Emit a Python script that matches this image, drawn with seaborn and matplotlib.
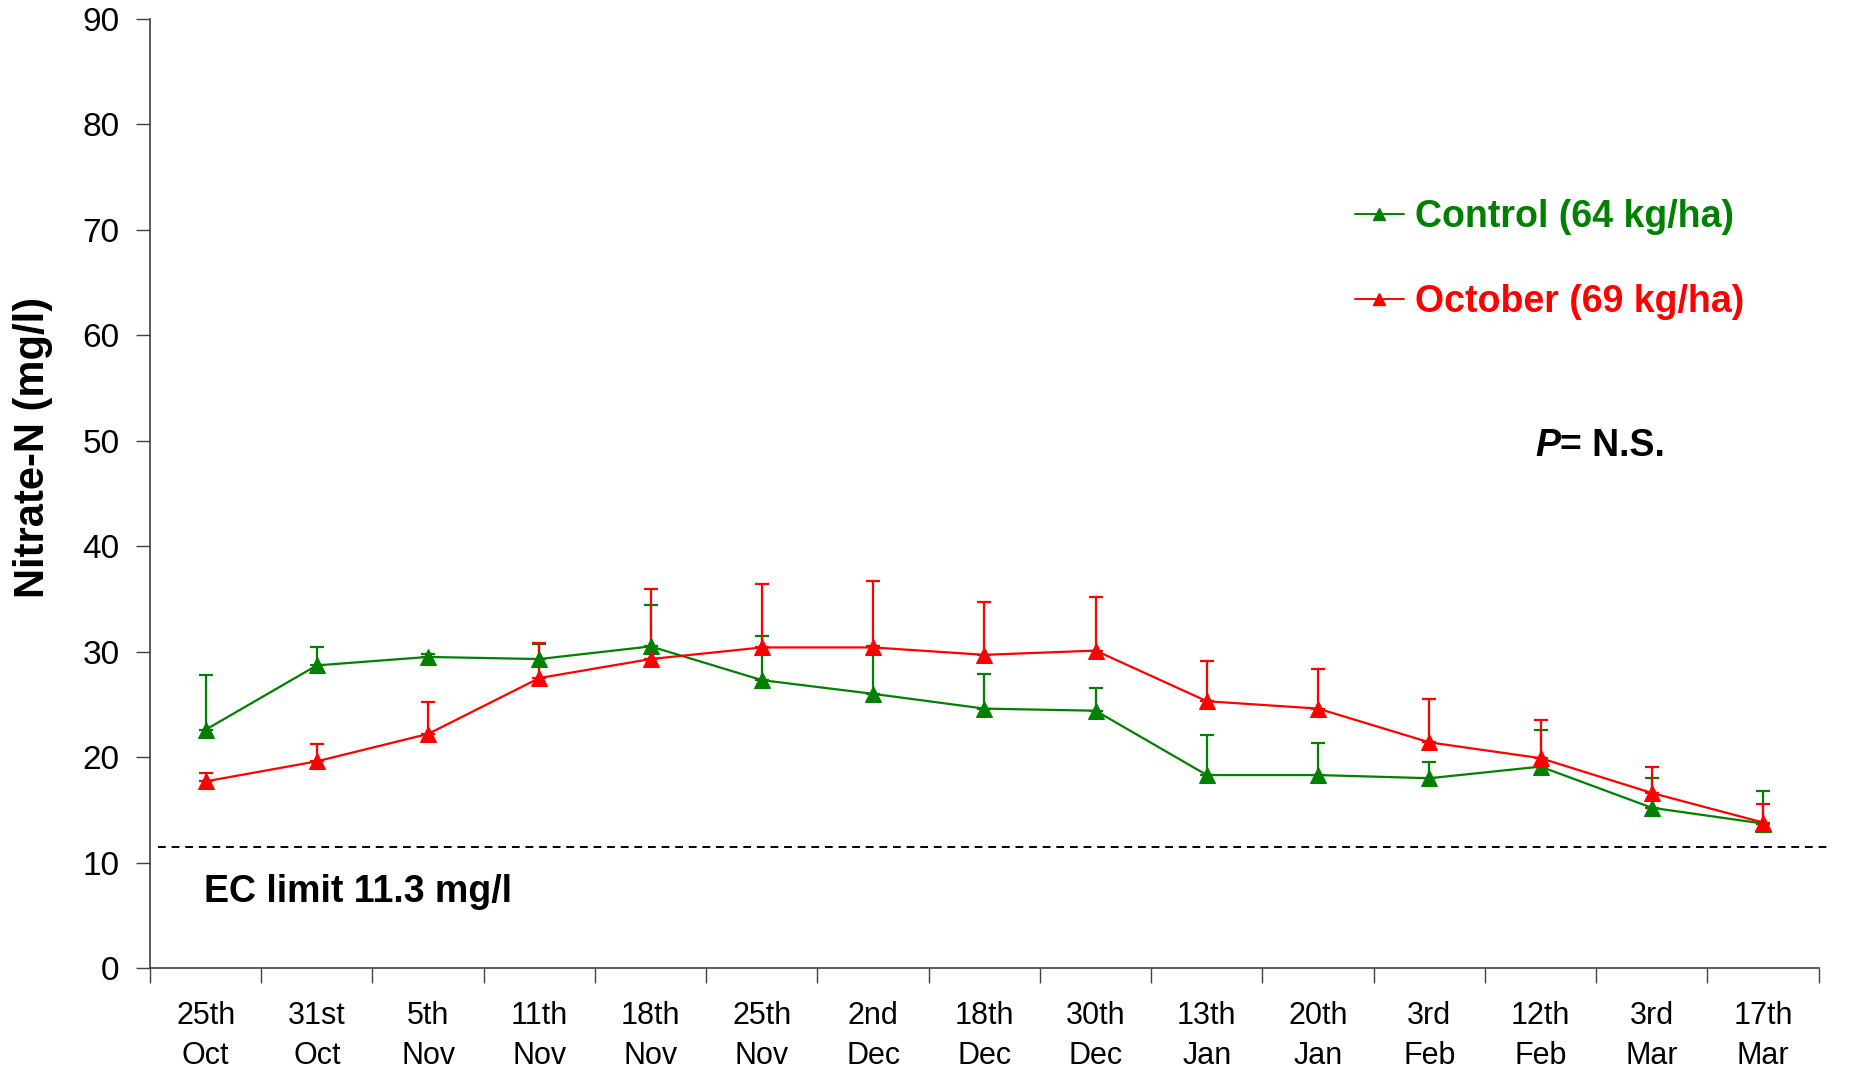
import matplotlib
matplotlib.use("Agg")
import matplotlib.pyplot as plt
from matplotlib.lines import Line2D
import numpy as np
import pandas as pd
import seaborn as sns

dates = ["25th\nOct", "31st\nOct", "5th\nNov", "11th\nNov", "18th\nNov", "25th\nNov",
         "2nd\nDec", "18th\nDec", "30th\nDec", "13th\nJan", "20th\nJan", "3rd\nFeb",
         "12th\nFeb", "3rd\nMar", "17th\nMar"]

control_mean = [22.6, 28.7, 29.5, 29.3, 30.5, 27.3, 26.0, 24.6, 24.4, 18.3, 18.3, 18.0, 19.1, 15.2, 13.7]
control_top = [27.8, 30.4, 29.8, 30.7, 34.4, 31.5, 30.5, 27.9, 26.6, 22.1, 21.3, 19.5, 22.6, 18.0, 16.8]

october_mean = [17.7, 19.6, 22.2, 27.5, 29.3, 30.4, 30.4, 29.7, 30.1, 25.3, 24.6, 21.4, 19.9, 16.6, 13.8]
october_top = [18.5, 21.2, 25.2, 30.8, 35.9, 36.4, 36.7, 34.7, 35.2, 29.1, 28.4, 25.5, 23.5, 19.1, 15.6]

ec_limit = 11.5

GREEN = "#008000"
RED = "#FF0000"

sns.set_style("ticks")
plt.rcParams["font.family"] = ["Liberation Sans", "DejaVu Sans"]
plt.rcParams["text.color"] = "black"
plt.rcParams["axes.labelcolor"] = "black"
plt.rcParams["xtick.labelcolor"] = "black"
plt.rcParams["ytick.labelcolor"] = "black"

fig = plt.figure(figsize=(18.52, 10.70), dpi=100)
ax = fig.add_axes([0.081, 0.0953, 0.901, 0.887])

x = np.arange(len(dates))
series = [
    ("Control (64 kg/ha)", control_mean, control_top, GREEN),
    ("October (69 kg/ha)", october_mean, october_top, RED),
]

for name, mean, top, color in series:
    df = pd.DataFrame({"pos": x, "value": mean})
    mean = np.array(mean)
    upper = np.array(top) - mean
    ax.errorbar(x, mean, yerr=[np.zeros_like(upper), upper], fmt="none",
                ecolor=color, elinewidth=1.6, capsize=5, capthick=1.6, zorder=2)
    sns.lineplot(data=df, x="pos", y="value", ax=ax, color=color, marker="^",
                 markersize=11, markeredgecolor=color, linewidth=1.6, zorder=3)

ax.axhline(ec_limit, xmin=0.005, xmax=1.008, color="black", linestyle=(0, (4, 3)),
           linewidth=1.4, clip_on=False)

ax.set_xlim(-0.5, len(dates) - 0.5)
ax.set_ylim(0, 90)
ax.set_yticks(range(0, 91, 10))
ax.set_xticks(np.arange(len(dates) + 1) - 0.5)
ax.set_xticklabels([])
ax.set_xticks(x, minor=True)
ax.set_xticklabels(dates, minor=True, fontsize=22, linespacing=1.4)
ax.tick_params(axis="x", which="minor", length=0, pad=24)
ax.tick_params(axis="x", which="major", length=11, width=1, color="#404040")
ax.tick_params(axis="y", length=10, width=1, color="#404040", labelsize=24, pad=12)

ax.set_xlabel("")
ax.set_ylabel("Nitrate-N (mg/l)", fontsize=30, fontweight="bold")
ax.yaxis.set_label_coords(-0.058, 0.548)

sns.despine(ax=ax)
for side in ["left", "bottom"]:
    ax.spines[side].set_color("#404040")
    ax.spines[side].set_linewidth(1.2)

handles = [Line2D([], [], color=c, marker="^", markersize=8, linewidth=1.4) for _, _, _, c in series]
leg = ax.legend(handles, [s[0] for s in series], loc="upper left", bbox_to_anchor=(0.722, 0.81),
                frameon=False, handlelength=1.3, handletextpad=0.3,
                labelspacing=1.3, borderpad=0, borderaxespad=0,
                prop={"size": 27, "weight": "bold"})
for text, (_, _, _, c) in zip(leg.get_texts(), series):
    text.set_color(c)

p_text = ax.text(0.830, 0.550, "P", transform=ax.transAxes, fontsize=27,
                 fontweight="bold", fontstyle="italic", va="center", ha="left")
ax.annotate("= N.S.", xy=(1, 0.5), xycoords=p_text, va="center", ha="left",
            fontsize=27, fontweight="bold")

ax.text(0.0324, 0.080, "EC limit 11.3 mg/l", transform=ax.transAxes, fontsize=27,
        fontweight="bold", va="center", ha="left")

fig.savefig("out.png", dpi=100)
